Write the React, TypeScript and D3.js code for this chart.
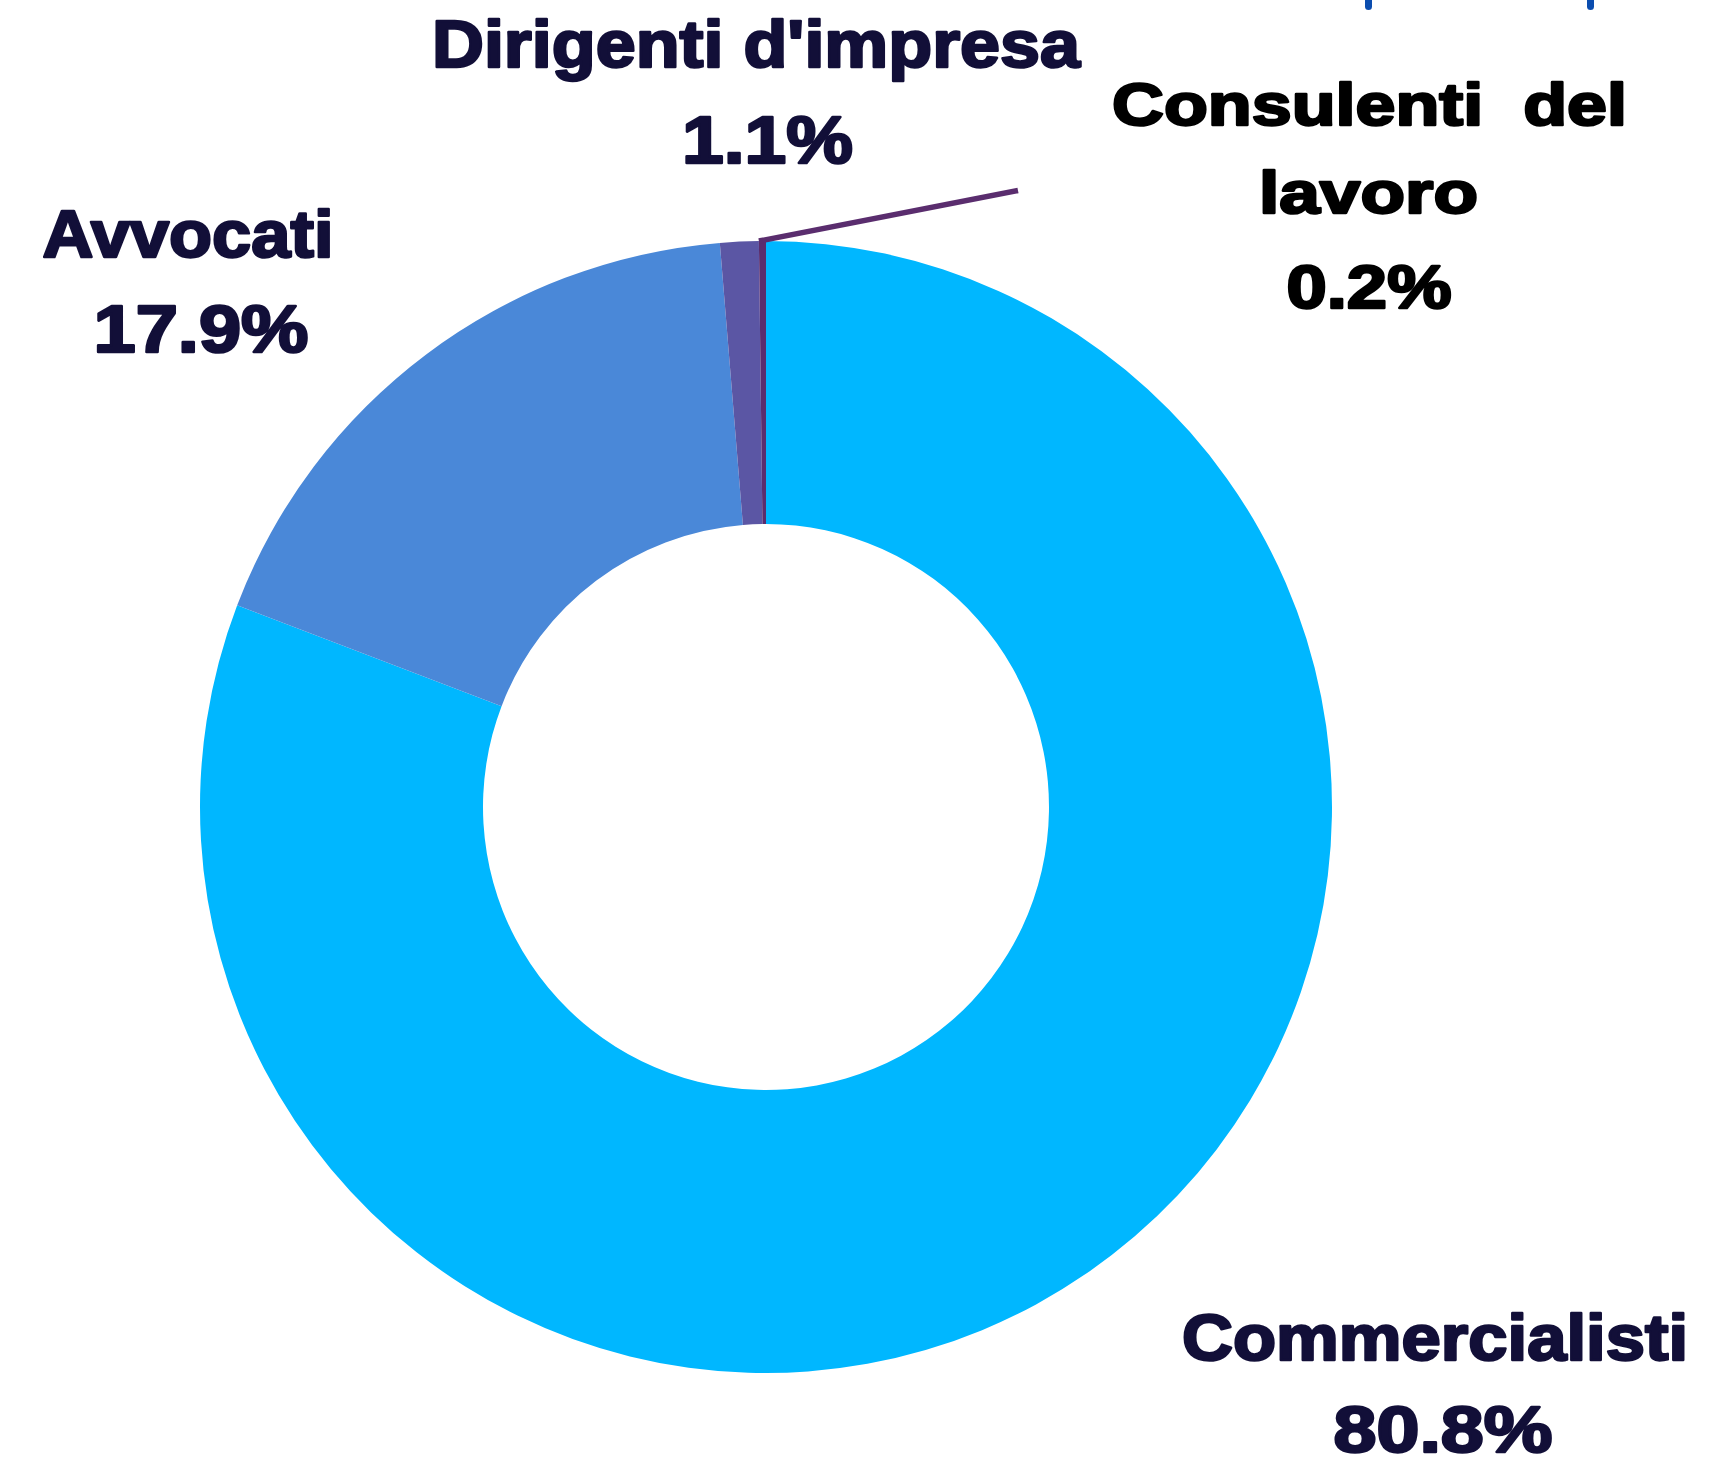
import React from "react";
import * as d3 from "d3";

const categories = ["Commercialisti", "Avvocati", "Dirigenti d'impresa", "Consulenti del lavoro"];
const values = [80.8, 17.9, 1.1, 0.2];
const valueLabels = ["80.8%", "17.9%", "1.1%", "0.2%"];
const colors = ["#00B7FF", "#4A88D8", "#5B56A4", "#5A2D6E"];

// label layout: lines with center x, baseline y, font size, target width
const labelLines = [
  [
    { t: "Commercialisti", x: 1435, y: 1360, fs: 64, w: 506 },
    { t: valueLabels[0], x: 1443, y: 1452, fs: 64, w: 219 },
  ],
  [
    { t: "Avvocati", x: 188, y: 257, fs: 66, w: 291 },
    { t: valueLabels[1], x: 201, y: 352, fs: 66, w: 215 },
  ],
  [
    { t: "Dirigenti d'impresa", x: 756, y: 67, fs: 66, w: 648 },
    { t: valueLabels[2], x: 767.5, y: 163, fs: 66, w: 171 },
  ],
  [
    { t: "Consulenti  del", x: 1369.5, y: 125, fs: 60, w: 515 },
    { t: "lavoro", x: 1368.5, y: 213, fs: 60, w: 219 },
    { t: valueLabels[3], x: 1369, y: 308, fs: 61, w: 165 },
  ],
];
const labelColors = ["#120F38", "#120F38", "#120F38", "#000000"];
const leaderEnd = [1018, 190.5];

export default function App() {
  const cx = 766;
  const cy = 807;
  const R = 566;
  const r = 283;
  const pie = d3
    .pie<number>()
    .sort(null)
    .startAngle(0)
    .endAngle(2 * Math.PI)
    .padAngle(0)
    .value((d) => d);
  const arcs = pie(values);
  const arc = d3.arc<d3.PieArcDatum<number>>().innerRadius(r).outerRadius(R);

  const cons = arcs[3];
  const a0 = cons.startAngle;
  const lx0 = cx + Math.sin(a0) * R;
  const ly0 = cy - Math.cos(a0) * R;

  return (
    <svg
      width={1730}
      height={1459}
      style={{ position: "absolute", left: 0, top: 0, background: "#fff" }}
      fontFamily="'Liberation Sans', Arial, sans-serif"
    >
      <rect x={0} y={0} width={1730} height={1459} fill="#fff" />
      <rect x={1365} y={-6} width={7} height={16} rx={3.5} fill="#0B4DAF" />
      <rect x={1587} y={-6} width={7} height={16} rx={3.5} fill="#0B4DAF" />
      <g transform={`translate(${cx},${cy})`}>
        {arcs.map((a, i) => (
          <path key={categories[i]} d={arc(a) || ""} fill={colors[i]} />
        ))}
      </g>
      <line
        x1={lx0}
        y1={ly0}
        x2={leaderEnd[0]}
        y2={leaderEnd[1]}
        stroke={colors[3]}
        strokeWidth={5.5}
      />
      {labelLines.map((lines, i) =>
        lines.map((l, j) => (
          <text
            key={`${i}-${j}`}
            x={l.x}
            y={l.y}
            fontSize={l.fs}
            fontWeight="bold"
            textAnchor="middle"
            fill={labelColors[i]}
            stroke={labelColors[i]}
            strokeWidth={2.5}
            strokeLinejoin="round"
            textLength={l.w}
            lengthAdjust="spacingAndGlyphs"
            style={{ whiteSpace: "pre" }}
          >
            {l.t}
          </text>
        ))
      )}
    </svg>
  );
}
